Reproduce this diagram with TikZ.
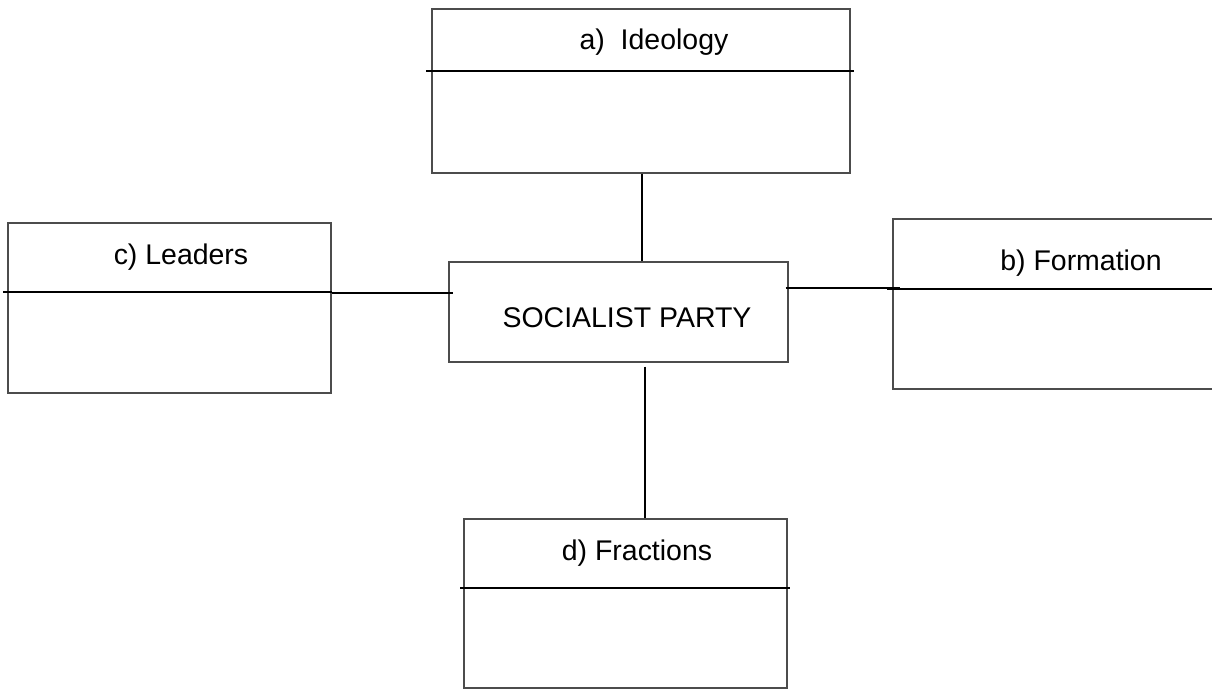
\documentclass[tikz,border=0pt]{standalone}
\usepackage{fontspec}
\setmainfont{Liberation Sans}

\tikzset{
	box/.style={rectangle, draw=black!70, line width=.75pt, inner sep=0pt},
	rule/.style={line width=1.2pt},
	link/.style={line width=1.2pt},
	title/.style={anchor=base, inner sep=0pt, font=\fontsize{16.2}{19}\selectfont}
}

\begin{document}
\begin{tikzpicture}[x=.02cm, y=-.02cm]
	\useasboundingbox (0, 0) rectangle (1212, 690);
	\node (ideo) at (641, 91) [box, minimum width=8.36cm, minimum
        height=3.28cm] {};
	\node (lead) at (169.5, 308) [box, minimum width=6.46cm, minimum
        height=3.4cm] {};
	\node (form) at (1056.5, 304) [box, minimum width=6.54cm, minimum
        height=3.4cm] {};
	\node (party) at (618.5, 312) [box, minimum width=6.78cm, minimum
        height=2cm] {};
	\node (frac) at (625.5, 603.5) [box, minimum width=6.46cm, minimum
        height=3.38cm] {};
	\node (ideo-t) at (654, 49) [title] {a)~ Ideology};
	\node (lead-t) at (181, 264) [title] {c) Leaders};
	\node (form-t) at (1081, 270) [title] {b) Formation};
	\node (party-t) at (627, 327) [title] {SOCIALIST PARTY};
	\node (frac-t) at (637, 560) [title] {d) Fractions};
	% dividers
	\draw[rule] ([xshift=-.1cm]ideo.west |- 0, 71) -- ([xshift=.06cm]ideo.east |- 0, 71);
	\draw[rule] ([xshift=-.08cm]lead.west |- 0, 292) -- (lead.east |- 0, 292);
	\draw[rule] ([xshift=-.1cm]form.west |- 0, 289) -- (form.east |- 0, 289);
	\draw[rule] ([xshift=-.06cm]frac.west |- 0, 588) -- ([xshift=.04cm]frac.east |- 0, 588);
	% links
	\draw[link] (ideo.south -| 642, 0) -- (party.north -| 642, 0);
	\draw[link] (lead.east |- 0, 293) -- ([xshift=.1cm]party.west |- 0, 293);
	\draw[link] ([xshift=-.06cm]party.east |- 0, 288) -- ([xshift=.16cm]form.west |- 0, 288);
	\draw[link] ([yshift=-.08cm]party.south -| 645, 0) -- (frac.north -| 645, 0);
\end{tikzpicture}
\end{document}
